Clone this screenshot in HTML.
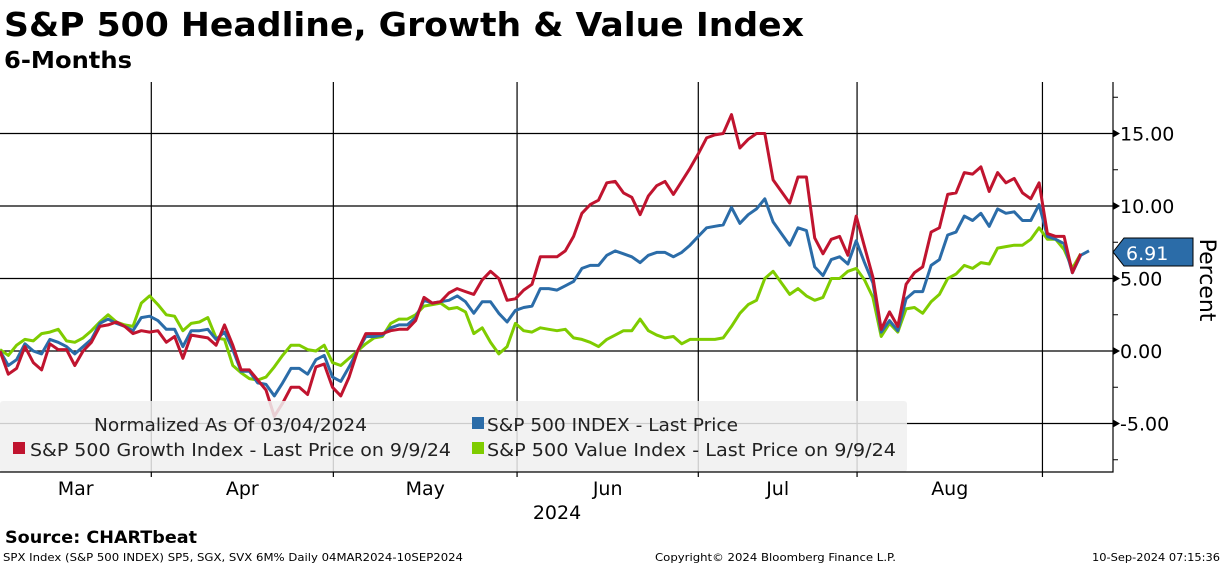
<!DOCTYPE html>
<html><head><meta charset="utf-8"><style>
html,body{margin:0;padding:0;background:#fff;}
svg{display:block;font-family:"DejaVu Sans","Liberation Sans",sans-serif;}
</style></head><body>
<svg id="chart" width="1224" height="566" viewBox="0 0 1224 566" xmlns="http://www.w3.org/2000/svg">
<text x="4" y="36" font-size="33" font-weight="bold" textLength="800" lengthAdjust="spacingAndGlyphs">S&amp;P 500 Headline, Growth &amp; Value Index</text>
<text x="4" y="68" font-size="23" font-weight="bold" textLength="128" lengthAdjust="spacingAndGlyphs">6-Months</text>
<g id="grid"></g>
<g id="series"></g>
<g id="legend">
<rect x="0" y="401" width="907" height="71" fill="#f0f0f0" fill-opacity="0.85" rx="3"/>
<text x="94" y="431" font-size="18" fill="#222" textLength="273" lengthAdjust="spacingAndGlyphs">Normalized As Of 03/04/2024</text>
<rect x="472" y="417" width="12" height="12" fill="#2b6ca8"/>
<text x="487" y="431" font-size="18" fill="#222" textLength="251" lengthAdjust="spacingAndGlyphs">S&amp;P 500 INDEX - Last Price</text>
<rect x="13" y="442" width="12" height="12" fill="#c0142f"/>
<text x="30" y="456" font-size="18" fill="#222" textLength="421" lengthAdjust="spacingAndGlyphs">S&amp;P 500 Growth Index - Last Price on 9/9/24</text>
<rect x="472" y="442" width="12" height="12" fill="#7fcc00"/>
<text x="487" y="456" font-size="18" fill="#222" textLength="409" lengthAdjust="spacingAndGlyphs">S&amp;P 500 Value Index - Last Price on 9/9/24</text>
</g>
<g id="axes"></g>
<polygon points="1113,252 1124,238 1193,238 1193,266 1124,266" fill="#2b6ca8" stroke="#000" stroke-width="1"/>
<text x="1126" y="260" font-size="19" fill="#fff">6.91</text>
<text transform="translate(1200,280) rotate(90)" text-anchor="middle" font-size="22" fill="#000">Percent</text>
<text x="557" y="519" text-anchor="middle" font-size="19">2024</text>
<text x="5" y="543" font-size="17" font-weight="bold" textLength="192" lengthAdjust="spacingAndGlyphs">Source: CHARTbeat</text>
<text x="3" y="561" font-size="11" textLength="460" lengthAdjust="spacingAndGlyphs">SPX Index (S&amp;P 500 INDEX) SP5, SGX, SVX 6M%  Daily 04MAR2024-10SEP2024</text>
<text x="655" y="561" font-size="11" textLength="241" lengthAdjust="spacingAndGlyphs">Copyright© 2024 Bloomberg Finance L.P.</text>
<text x="1220" y="561" font-size="11" text-anchor="end" textLength="128" lengthAdjust="spacingAndGlyphs">10-Sep-2024 07:15:36</text>
</svg>
<script>
const spx=[0,-1.0,-0.6,0.5,0,-0.2,0.8,0.6,0.3,-0.2,0.3,0.8,1.9,2.2,1.9,1.7,1.4,2.3,2.4,2.1,1.5,1.5,0.3,1.4,1.4,1.5,0.8,1.3,0.1,-1.4,-1.4,-2.2,-2.3,-3.1,-2.2,-1.2,-1.2,-1.6,-0.6,-0.3,-1.8,-2.1,-1.1,0,1.0,1.0,1.1,1.6,1.8,1.8,2.3,3.5,3.3,3.4,3.5,3.8,3.4,2.6,3.4,3.4,2.6,2.0,2.8,3.0,3.1,4.3,4.3,4.2,4.5,4.8,5.7,5.9,5.9,6.6,6.9,6.7,6.5,6.1,6.6,6.8,6.8,6.5,6.8,7.3,7.9,8.5,8.6,8.7,9.9,8.8,9.4,9.8,10.5,8.9,8.1,7.3,8.5,8.3,5.8,5.2,6.3,6.5,6.0,7.6,6.1,4.7,1.3,2.1,1.4,3.6,4.1,4.1,5.9,6.3,8.0,8.2,9.3,9.0,9.5,8.6,9.8,9.5,9.6,9.0,9.0,10.1,7.9,7.7,7.4,5.4,6.6,6.91];
const growth=[0,-1.6,-1.2,0.3,-0.8,-1.3,0.5,0.1,0.1,-1.0,0,0.6,1.7,1.8,2.0,1.7,1.2,1.4,1.3,1.4,0.6,1.0,-0.5,1.1,1.0,0.9,0.4,1.8,0.4,-1.3,-1.3,-2.0,-2.7,-4.5,-3.6,-2.5,-2.5,-3.0,-1.1,-0.9,-2.5,-3.1,-1.8,0,1.2,1.2,1.2,1.4,1.5,1.5,2.1,3.7,3.3,3.4,4.0,4.3,4.1,3.9,4.9,5.5,5.0,3.5,3.6,4.2,4.6,6.5,6.5,6.5,6.9,7.9,9.5,10.1,10.4,11.6,11.7,10.9,10.6,9.4,10.7,11.4,11.7,10.8,11.7,12.6,13.6,14.7,14.9,15.0,16.3,14.0,14.6,15.0,15.0,11.8,11.0,10.2,12.0,12.0,7.8,6.7,7.7,7.9,6.6,9.3,7.2,5.1,1.5,2.7,1.7,4.6,5.4,5.8,8.2,8.5,10.8,10.9,12.3,12.2,12.7,11.0,12.3,11.6,11.9,10.9,10.5,11.6,8.1,7.9,7.9,5.4,6.7];
const value=[0.1,-0.3,0.4,0.8,0.7,1.2,1.3,1.5,0.7,0.6,0.9,1.4,2.0,2.5,2.0,1.8,1.7,3.3,3.8,3.2,2.5,2.4,1.4,1.9,2.0,2.3,0.9,0.8,-1.0,-1.5,-1.9,-2.0,-1.8,-1.1,-0.3,0.4,0.4,0.1,0,0.4,-0.8,-1.0,-0.5,0,0.5,0.9,1.0,1.9,2.2,2.2,2.5,3.1,3.2,3.3,2.9,3.0,2.7,1.2,1.6,0.6,-0.2,0.3,1.9,1.4,1.3,1.6,1.5,1.4,1.5,0.9,0.8,0.6,0.3,0.8,1.1,1.4,1.4,2.2,1.4,1.1,0.9,1.0,0.5,0.8,0.8,0.8,0.8,0.9,1.7,2.6,3.2,3.5,5.0,5.5,4.7,3.9,4.3,3.8,3.5,3.7,5.0,5.0,5.5,5.7,4.9,3.7,1.0,1.9,1.3,2.9,3.0,2.6,3.4,3.9,5.0,5.3,5.9,5.7,6.1,6.0,7.1,7.2,7.3,7.3,7.7,8.5,7.7,7.7,7.0,5.7,6.7];
const yTicks=[15,10,5,0,-5];
const yTickLabels=["15.00","10.00","5.00","0.00","-5.00"];
const yMinor=[17.5,12.5,7.5,2.5,-2.5,-7.5];
const monthLabels=["Mar","Apr","May","Jun","Jul","Aug"];
const monthStartIdx=[0,18.2,40.1,62.2,84,103.1,125.4];

const NS="http://www.w3.org/2000/svg";
const PL=0,PR=1113,PT=82,PB=472;
const nPts=132;
const xS=i=>PL+i*(1089/(nPts-1));
const yS=v=>351-v*14.5;
function mk(tag,attrs,parent){const e=document.createElementNS(NS,tag);for(const k in attrs)e.setAttribute(k,attrs[k]);parent.appendChild(e);return e;}
const grid=document.getElementById('grid'),axes=document.getElementById('axes'),ser=document.getElementById('series');
yTicks.forEach((t,k)=>{
 const l=mk('line',{x1:PL,x2:PR,y1:yS(t),y2:yS(t),stroke:'#000','stroke-width':1.2},grid);
 
 
 const a=mk('polygon',{points:`${PR},${yS(t)-4} ${PR+7},${yS(t)} ${PR},${yS(t)+4}`,fill:'#000'},axes);
 
 
 const tx=mk('text',{x:PR+7,y:yS(t)+7,'font-size':19},axes);
 tx.textContent=yTickLabels[k];
 
 
});
yMinor.forEach(t=>{
 const l=mk('line',{x1:PR,x2:PR+5,y1:yS(t),y2:yS(t),stroke:'#000'},axes);
 
 
});
monthStartIdx.forEach((m,k)=>{
 const x=xS(m);
 if(k>0){
  const l=mk('line',{x1:x,x2:x,y1:PT,y2:PB+5,stroke:'#000','stroke-width':1.2},grid);
  
  
 }
 if(k<monthLabels.length){
  const cx=(xS(m)+xS(monthStartIdx[k+1]))/2;
  const t=mk('text',{x:cx,y:495,'text-anchor':'middle','font-size':19},axes);
  t.textContent=monthLabels[k];
  
  
 }
});
const ax=mk('path',{d:`M${PR},${PT} V${PB} H${PL}`,fill:'none',stroke:'#000','stroke-width':1.2},axes);


[[value,'#7fcc00','line-value'],[spx,'#2b6ca8','line-spx'],[growth,'#c0142f','line-growth']].forEach(([arr,c,n])=>{
 const p=mk('polyline',{points:arr.map((v,i)=>xS(i).toFixed(1)+','+yS(v).toFixed(1)).join(' '),fill:'none',stroke:c,'stroke-width':3,'stroke-linejoin':'round'},ser);
 
 
});
</script>
</body></html>
